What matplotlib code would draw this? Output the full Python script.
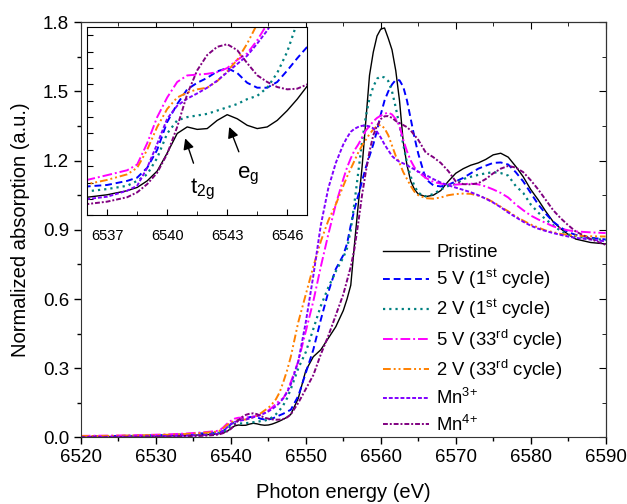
import matplotlib
matplotlib.use('Agg')
from matplotlib import pyplot as plt
from matplotlib.ticker import MultipleLocator

plt.rcParams['font.family'] = ['Liberation Sans', 'DejaVu Sans']
plt.rcParams['mathtext.fontset'] = 'custom'
plt.rcParams['mathtext.rm'] = 'Liberation Sans'
plt.rcParams['mathtext.it'] = 'Liberation Sans:italic'

# 能量网格 (eV)
energy = [6520, 6524, 6528, 6532, 6534, 6536, 6537, 6538, 6538.5, 6539, 6539.5,
          6540, 6540.5, 6541, 6541.5, 6542, 6542.5, 6543, 6543.5, 6544, 6544.5,
          6545, 6545.5, 6546, 6546.5, 6547, 6547.5, 6548, 6549, 6550, 6551,
          6552, 6553, 6554, 6555, 6555.5, 6556, 6556.5, 6557, 6557.5, 6558,
          6558.5, 6559, 6559.5, 6560, 6560.5, 6561, 6561.5, 6562, 6562.5, 6563,
          6563.5, 6564, 6564.5, 6565, 6566, 6567, 6568, 6569, 6570, 6571, 6572,
          6573, 6574, 6575, 6576, 6577, 6578, 6579, 6580, 6581, 6582, 6583,
          6584, 6585, 6586, 6588, 6590]

pristine = [0.003, 0.004, 0.005, 0.007, 0.009, 0.011, 0.0125, 0.015, 0.017, 0.021, 0.027,
            0.038, 0.050, 0.054, 0.0525, 0.053, 0.058, 0.0615, 0.059, 0.055, 0.053,
            0.054, 0.058, 0.064, 0.071, 0.079, 0.088, 0.10, 0.17, 0.29, 0.35,
            0.38, 0.43, 0.48, 0.55, 0.60, 0.66, 0.84, 1.01, 1.17, 1.37,
            1.57, 1.67, 1.74, 1.77, 1.775, 1.73, 1.68, 1.59, 1.46, 1.28,
            1.18, 1.11, 1.075, 1.055, 1.044, 1.05, 1.07, 1.11, 1.145, 1.165, 1.18,
            1.19, 1.205, 1.225, 1.232, 1.215, 1.175, 1.13, 1.075, 1.03, 0.98, 0.935,
            0.905, 0.88, 0.86, 0.845, 0.839]

v5_1st = [0.005, 0.006, 0.008, 0.011, 0.014, 0.0176, 0.0185, 0.021, 0.023, 0.029, 0.040,
          0.057, 0.068, 0.077, 0.081, 0.084, 0.088, 0.090, 0.087, 0.081, 0.078,
          0.078, 0.0815, 0.0885, 0.096, 0.103, 0.112, 0.12, 0.18, 0.28, 0.38,
          0.51, 0.63, 0.73, 0.79, 0.84, 0.92, 0.99, 1.05, 1.11, 1.17,
          1.22, 1.27, 1.33, 1.40, 1.46, 1.50, 1.53, 1.55, 1.548, 1.52,
          1.46, 1.38, 1.30, 1.23, 1.12, 1.093, 1.088, 1.095, 1.11, 1.125, 1.145,
          1.165, 1.178, 1.19, 1.192, 1.183, 1.15, 1.11, 1.06, 1.01, 0.97, 0.935,
          0.91, 0.89, 0.878, 0.866, 0.858]

v2_1st = [0.004, 0.005, 0.007, 0.009, 0.012, 0.0146, 0.016, 0.018, 0.021, 0.025, 0.035,
          0.050, 0.058, 0.060, 0.061, 0.062, 0.064, 0.066, 0.068, 0.071, 0.073,
          0.078, 0.087, 0.100, 0.118, 0.14, 0.17, 0.21, 0.30, 0.37, 0.47,
          0.57, 0.65, 0.72, 0.78, 0.82, 0.90, 1.02, 1.15, 1.28, 1.39,
          1.47, 1.52, 1.555, 1.565, 1.56, 1.545, 1.50, 1.43, 1.35, 1.27,
          1.19, 1.13, 1.09, 1.06, 1.045, 1.055, 1.075, 1.09, 1.10, 1.12, 1.13,
          1.138, 1.145, 1.15, 1.146, 1.135, 1.09, 1.06, 1.01, 0.975, 0.945, 0.92,
          0.895, 0.88, 0.872, 0.862, 0.856]

v5_33rd = [0.007, 0.008, 0.010, 0.014, 0.017, 0.0216, 0.0245, 0.0275, 0.031, 0.044, 0.060,
           0.072, 0.0815, 0.0855, 0.086, 0.0865, 0.0875, 0.090, 0.095, 0.099, 0.107,
           0.117, 0.13, 0.145, 0.16, 0.17, 0.20, 0.24, 0.33, 0.46, 0.59,
           0.74, 0.88, 1.01, 1.12, 1.17, 1.21, 1.245, 1.27, 1.30, 1.33,
           1.35, 1.37, 1.385, 1.395, 1.403, 1.408, 1.40, 1.38, 1.35, 1.29,
           1.24, 1.20, 1.17, 1.15, 1.125, 1.108, 1.10, 1.097, 1.096, 1.098, 1.10,
           1.097, 1.088, 1.075, 1.06, 1.04, 1.01, 0.985, 0.962, 0.945, 0.93, 0.915,
           0.905, 0.898, 0.893, 0.889, 0.886]

v2_33rd = [0.006, 0.007, 0.009, 0.012, 0.015, 0.019, 0.0216, 0.025, 0.029, 0.040, 0.054,
           0.065, 0.072, 0.075, 0.077, 0.078, 0.082, 0.088, 0.095, 0.105, 0.117,
           0.128, 0.145, 0.165, 0.195, 0.24, 0.29, 0.35, 0.50, 0.62, 0.74,
           0.85, 0.94, 1.01, 1.09, 1.13, 1.165, 1.20, 1.235, 1.265, 1.29,
           1.315, 1.335, 1.35, 1.355, 1.34, 1.31, 1.265, 1.22, 1.19, 1.15,
           1.12, 1.09, 1.065, 1.05, 1.037, 1.035, 1.04, 1.05, 1.055, 1.057, 1.056,
           1.048, 1.037, 1.02, 1.0, 0.98, 0.958, 0.94, 0.923, 0.91, 0.897, 0.89,
           0.882, 0.878, 0.875, 0.872, 0.871]

mn3 = [0.002, 0.003, 0.005, 0.007, 0.008, 0.0099, 0.0113, 0.015, 0.018, 0.029, 0.0436,
       0.059, 0.067, 0.0713, 0.0745, 0.078, 0.0823, 0.0874, 0.0925, 0.0976, 0.105,
       0.113, 0.123, 0.135, 0.15, 0.17, 0.195, 0.23, 0.33, 0.50, 0.70,
       0.92, 1.08, 1.19, 1.27, 1.30, 1.325, 1.338, 1.346, 1.351, 1.352,
       1.348, 1.34, 1.325, 1.30, 1.27, 1.245, 1.22, 1.205, 1.195, 1.188,
       1.18, 1.17, 1.162, 1.152, 1.138, 1.12, 1.105, 1.093, 1.083, 1.073, 1.063,
       1.05, 1.035, 1.018, 0.998, 0.975, 0.955, 0.935, 0.918, 0.905, 0.895, 0.886,
       0.878, 0.871, 0.865, 0.858, 0.85]

mn4 = [0.0, 0.001, 0.002, 0.004, 0.005, 0.0068, 0.0083, 0.011, 0.014, 0.019, 0.026,
       0.0375, 0.054, 0.074, 0.0886, 0.098, 0.103, 0.1046, 0.101, 0.093, 0.0856,
       0.0815, 0.0784, 0.077, 0.0774, 0.080, 0.087, 0.10, 0.15, 0.21, 0.27,
       0.36, 0.44, 0.53, 0.62, 0.68, 0.74, 0.82, 0.93, 1.05, 1.15,
       1.24, 1.31, 1.35, 1.38, 1.392, 1.393, 1.385, 1.372, 1.363, 1.354,
       1.345, 1.33, 1.31, 1.29, 1.235, 1.215, 1.19, 1.155, 1.11, 1.098, 1.097,
       1.102, 1.12, 1.145, 1.165, 1.177, 1.17, 1.15, 1.115, 1.075, 1.03, 0.985,
       0.95, 0.92, 0.893, 0.86, 0.835]

labels = ['Pristine', '5 V (1$^{\\rm st}$ cycle)', '2 V (1$^{\\rm st}$ cycle)',
          '5 V (33$^{\\rm rd}$ cycle)', '2 V (33$^{\\rm rd}$ cycle)',
          'Mn$^{3{+}}$', 'Mn$^{4{+}}$']
series = [pristine, v5_1st, v2_1st, v5_33rd, v2_33rd, mn3, mn4]
colors = ['black', '#0000ff', '#008080', '#ff00ff', '#ff8000', '#8000ff', '#800080']
# 线型: 实线, 虚线, 点线, 点划线, 双点划线, 短虚线, 短点划线
dashes = [None, (3.5, 2), (1, 1.8), (5, 1.5, 1, 1.5), (4, 1.5, 1, 1.5, 1, 1.5),
          (2, 1), (2.5, 1, 1, 1)]
widths = [1.0, 1.4, 1.6, 1.4, 1.4, 1.4, 1.4]


def draw(ax):
    lines = []
    for y, c, d, w, lab in zip(series, colors, dashes, widths, labels):
        if d is None:
            ln, = ax.plot(energy, y, color=c, lw=w, label=lab)
        else:
            ln, = ax.plot(energy, y, color=c, lw=w, dashes=d, label=lab)
        lines.append(ln)
    return lines


fig = plt.figure(figsize=(6.27, 5.04), dpi=100)
ax = fig.add_axes([0.129, 0.132, 0.837, 0.824])
draw(ax)
ax.set_xlim(6520, 6590)
ax.set_ylim(0, 1.8)
ax.xaxis.set_major_locator(MultipleLocator(10))
ax.xaxis.set_minor_locator(MultipleLocator(5))
ax.yaxis.set_major_locator(MultipleLocator(0.3))
ax.yaxis.set_minor_locator(MultipleLocator(0.15))
ax.tick_params(which='both', direction='out', labelsize=13.5, width=1)
ax.tick_params(which='major', length=5)
ax.tick_params(which='minor', length=3)
ax.set_xlabel('Photon energy (eV)', fontsize=14.5, labelpad=12)
ax.set_ylabel('Normalized absorption (a.u.)', fontsize=14.5, labelpad=9)
for s in ax.spines.values():
    s.set_color('#333333')

# 上边和右边的刻度朝内
top = ax.secondary_xaxis('top')
top.xaxis.set_major_locator(MultipleLocator(10))
top.xaxis.set_minor_locator(MultipleLocator(5))
top.tick_params(which='both', direction='in', labeltop=False)
top.tick_params(which='major', length=5)
top.tick_params(which='minor', length=3)
right = ax.secondary_yaxis('right')
right.yaxis.set_major_locator(MultipleLocator(0.3))
right.yaxis.set_minor_locator(MultipleLocator(0.15))
right.tick_params(which='both', direction='in', labelright=False)
right.tick_params(which='major', length=5)
right.tick_params(which='minor', length=3)

ax.legend(loc='upper left', bbox_to_anchor=(0.575, 0.465), frameon=False,
          fontsize=13.3, handlelength=2.5, handletextpad=0.4, labelspacing=0.34,
          borderpad=0, borderaxespad=0)

# 插图
ins = fig.add_axes([0.139, 0.573, 0.351, 0.373])
draw(ins)
ins.set_xlim(6536, 6547)
ins.set_ylim(0, 0.115)
ins.set_xticks([6537, 6540, 6543, 6546])
ins.xaxis.set_minor_locator(MultipleLocator(1.5))
ins.yaxis.set_major_locator(MultipleLocator(0.01))
ins.tick_params(which='both', direction='in', labelsize=10.5, labelleft=False)
ins.tick_params(axis='x', pad=10)
ins.tick_params(which='major', length=4)
ins.tick_params(which='minor', length=3)
ins.annotate('t$_{\\rm 2g}$', xy=(6540.9, 0.047), xytext=(6541.75, 0.016),
             fontsize=16, ha='center', va='center',
             arrowprops=dict(arrowstyle='-|>', color='black', lw=1, shrinkA=8, shrinkB=0))
ins.annotate('e$_{\\rm g}$', xy=(6543.1, 0.054), xytext=(6544.05, 0.024),
             fontsize=16, ha='center', va='center',
             arrowprops=dict(arrowstyle='-|>', color='black', lw=1, shrinkA=8, shrinkB=0))

fig.savefig('out.png', dpi=100)
